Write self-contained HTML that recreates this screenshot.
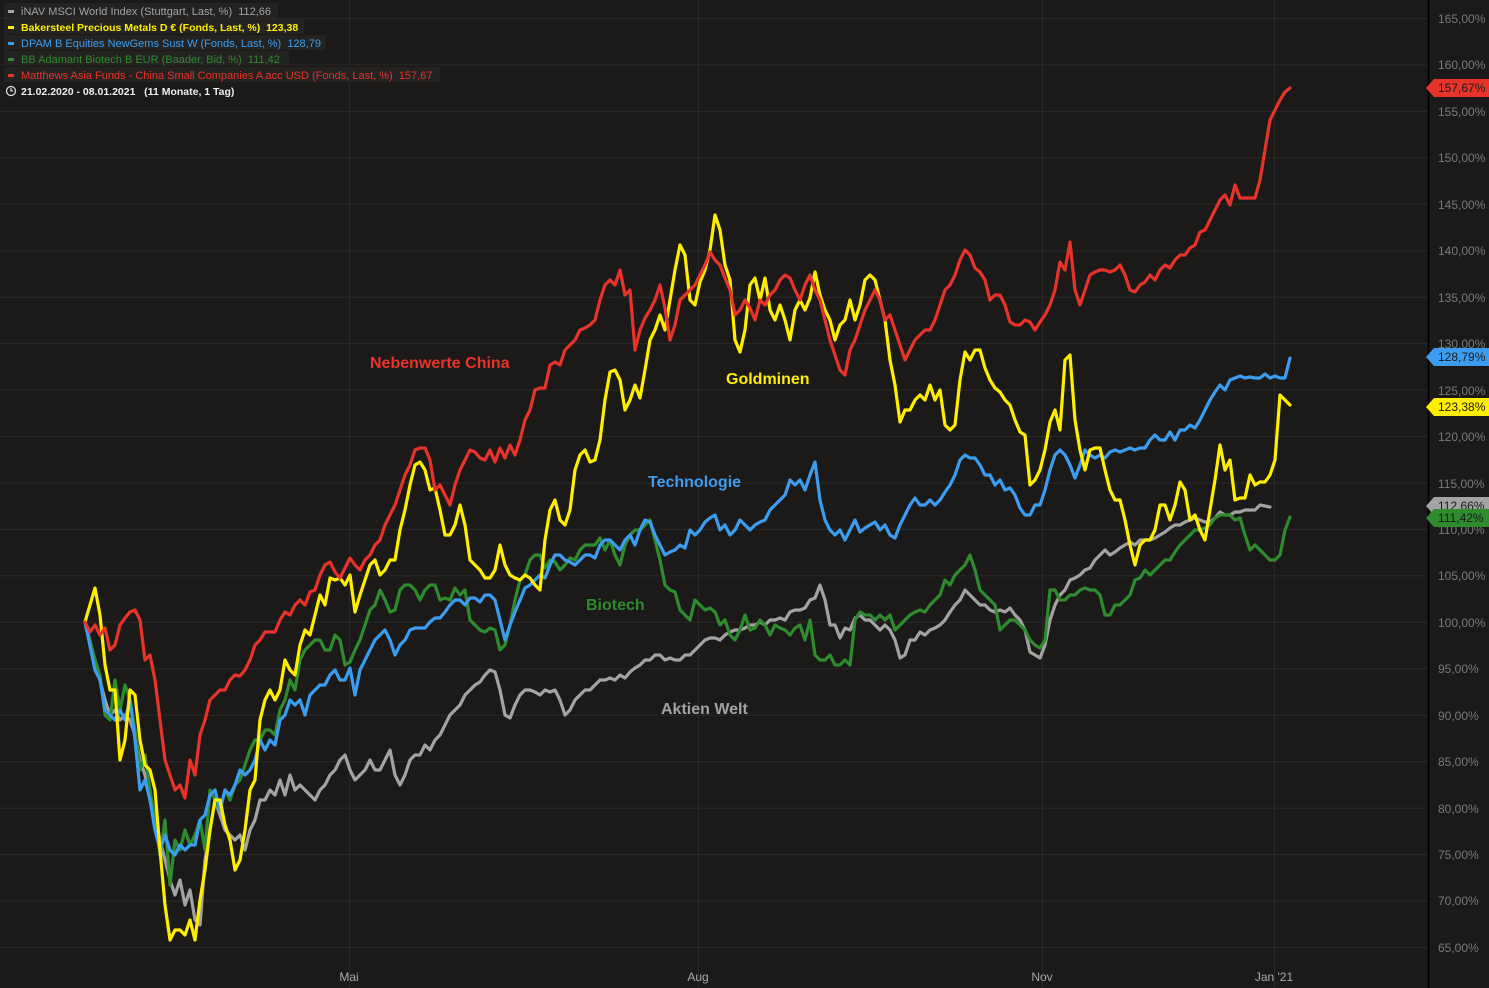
<!DOCTYPE html>
<html><head><meta charset="utf-8"><style>
html,body{margin:0;padding:0;background:#1b1a19;}
svg{display:block;font-family:"Liberation Sans",Arial,sans-serif;}
</style></head><body>
<svg width="1489" height="988" viewBox="0 0 1489 988" xmlns="http://www.w3.org/2000/svg">
<rect width="1489" height="988" fill="#1b1a19"/>
<g stroke="#2a2928" stroke-width="1">
<line x1="0" x2="1428" y1="18.5" y2="18.5"/><line x1="0" x2="1428" y1="64.9" y2="64.9"/><line x1="0" x2="1428" y1="111.4" y2="111.4"/><line x1="0" x2="1428" y1="157.8" y2="157.8"/><line x1="0" x2="1428" y1="204.3" y2="204.3"/><line x1="0" x2="1428" y1="250.7" y2="250.7"/><line x1="0" x2="1428" y1="297.2" y2="297.2"/><line x1="0" x2="1428" y1="343.6" y2="343.6"/><line x1="0" x2="1428" y1="390.1" y2="390.1"/><line x1="0" x2="1428" y1="436.5" y2="436.5"/><line x1="0" x2="1428" y1="483" y2="483"/><line x1="0" x2="1428" y1="529.4" y2="529.4"/><line x1="0" x2="1428" y1="575.9" y2="575.9"/><line x1="0" x2="1428" y1="622.3" y2="622.3"/><line x1="0" x2="1428" y1="668.8" y2="668.8"/><line x1="0" x2="1428" y1="715.2" y2="715.2"/><line x1="0" x2="1428" y1="761.7" y2="761.7"/><line x1="0" x2="1428" y1="808.1" y2="808.1"/><line x1="0" x2="1428" y1="854.6" y2="854.6"/><line x1="0" x2="1428" y1="901" y2="901"/><line x1="0" x2="1428" y1="947.5" y2="947.5"/>
<line x1="349.5" x2="349.5" y1="0" y2="988"/><line x1="698.5" x2="698.5" y1="0" y2="988"/><line x1="1042.5" x2="1042.5" y1="0" y2="988"/><line x1="1274.5" x2="1274.5" y1="0" y2="988"/>
</g>
<line x1="1428.5" x2="1428.5" y1="0" y2="988" stroke="#000" stroke-width="1.5"/>
<g fill="#7a7a7a" font-size="12">
<text x="1438" y="23">165,00%</text><text x="1438" y="69">160,00%</text><text x="1438" y="116">155,00%</text><text x="1438" y="162">150,00%</text><text x="1438" y="209">145,00%</text><text x="1438" y="255">140,00%</text><text x="1438" y="302">135,00%</text><text x="1438" y="348">130,00%</text><text x="1438" y="395">125,00%</text><text x="1438" y="441">120,00%</text><text x="1438" y="488">115,00%</text><text x="1438" y="534">110,00%</text><text x="1438" y="580">105,00%</text><text x="1438" y="627">100,00%</text><text x="1438" y="673">95,00%</text><text x="1438" y="720">90,00%</text><text x="1438" y="766">85,00%</text><text x="1438" y="813">80,00%</text><text x="1438" y="859">75,00%</text><text x="1438" y="905">70,00%</text><text x="1438" y="952">65,00%</text>
</g>
<g fill="#aaa" font-size="12" text-anchor="middle">
<text x="349" y="981">Mai</text><text x="698" y="981">Aug</text><text x="1042" y="981">Nov</text><text x="1274" y="981">Jan '21</text>
</g>
<g fill="none" stroke-width="3.2" stroke-linejoin="round" stroke-linecap="round">
<polyline stroke="#a3a3a3" points="85,622 95,660 100,680 105,700 110,715 115,710 120,720 125,715 130,720 135,735 140,760 145,775 150,800 155,820 160,840 165,860 170,880 175,895 180,880 185,905 190,890 195,920 200,925 205,860 210,830 215,800 220,815 225,830 230,835 235,840 240,835 245,850 250,830 255,820 260,800 265,800 270,790 275,795 280,780 285,795 290,775 295,790 300,785 305,790 310,795 315,800 320,790 325,785 330,775 335,770 340,760 345,755 350,770 355,780 360,775 365,770 370,760 375,770 380,770 385,760 390,750 395,775 400,785 405,775 410,760 415,755 420,755 425,745 430,750 435,740 440,735 445,725 450,715 455,710 460,705 465,695 470,690 475,685 480,682 485,675 490,670 495,672 500,690 505,715 510,718 515,705 520,695 525,690 530,690 535,692 540,695 545,690 550,692 555,690 560,700 565,715 570,710 575,700 580,695 585,690 590,690 595,685 600,680 605,680 610,678 615,680 620,675 625,678 630,672 635,668 640,665 645,660 650,660 655,655 660,655 665,660 670,658 675,660 680,660 685,655 690,655 695,650 700,645 705,640 710,638 715,638 720,640 725,635 730,632 735,630 740,630 745,628 750,625 755,625 760,622 765,625 770,620 775,620 780,618 785,620 790,612 795,610 800,610 805,608 810,600 815,598 820,585 825,600 830,625 835,625 840,638 845,628 850,630 855,618 860,615 865,620 870,620 875,625 880,630 885,625 890,630 895,640 900,658 905,655 910,640 915,640 920,632 925,635 930,630 935,628 940,625 945,620 950,612 955,605 960,600 965,590 970,595 975,600 980,605 985,605 990,610 995,612 1000,610 1005,612 1010,608 1015,615 1020,620 1025,630 1030,652 1035,655 1040,658 1045,645 1050,620 1055,605 1060,595 1065,590 1070,580 1075,578 1080,575 1085,570 1090,568 1095,560 1100,555 1105,550 1110,555 1115,552 1120,548 1125,545 1130,542 1135,545 1140,540 1145,540 1150,540 1155,538 1160,535 1165,532 1170,528 1175,525 1180,525 1185,522 1190,520 1195,518 1200,520 1205,522 1210,522 1215,518 1220,512 1225,515 1230,515 1235,512 1240,512 1245,510 1250,510 1255,510 1260,505 1265,506 1270,507"/>
<polyline stroke="#2e8b2e" points="85,622 95,660 100,675 105,715 110,720 115,680 120,710 125,685 130,700 135,730 140,770 145,755 150,790 155,820 160,855 165,820 170,885 175,840 180,850 185,830 190,845 195,835 200,820 205,850 210,790 215,800 220,810 225,790 230,800 235,785 240,780 245,765 250,750 255,740 260,740 265,730 270,730 275,735 280,710 285,700 290,680 295,690 300,660 305,650 310,645 315,640 320,640 325,650 330,650 335,635 340,640 345,665 350,662 355,650 360,640 365,625 370,610 375,605 380,590 385,600 390,612 395,610 400,590 405,585 410,585 415,590 420,600 425,590 430,585 435,585 440,600 445,598 450,600 455,588 460,595 465,590 470,620 475,625 480,630 485,632 490,628 495,630 500,650 505,645 510,625 515,600 520,580 525,575 530,560 535,555 540,555 545,568 550,560 555,562 560,570 565,565 570,558 575,560 580,550 585,545 590,545 595,545 600,538 605,550 610,540 615,555 620,565 625,545 630,535 635,530 640,530 645,525 650,520 655,540 660,560 665,585 670,590 675,592 680,610 685,615 690,620 695,600 700,605 705,610 710,608 715,612 720,625 725,620 730,635 735,640 740,630 745,615 750,630 755,628 760,620 765,625 770,635 775,625 780,628 785,630 790,635 795,628 800,625 805,640 810,620 815,655 820,660 825,660 830,655 835,665 840,665 845,660 850,665 855,620 860,612 865,615 870,615 875,620 880,615 885,620 890,615 895,630 900,625 905,620 910,615 915,612 920,610 925,612 930,605 935,600 940,595 945,580 950,585 955,575 960,570 965,565 970,555 975,570 980,590 985,595 990,600 995,605 1000,630 1005,625 1010,620 1015,620 1020,625 1025,630 1030,640 1035,645 1040,648 1045,640 1050,590 1055,590 1060,600 1065,600 1070,595 1075,595 1080,590 1085,588 1090,590 1095,590 1100,595 1105,615 1110,615 1115,605 1120,605 1125,600 1130,595 1135,580 1140,578 1145,570 1150,575 1155,570 1160,565 1165,560 1170,560 1175,552 1180,545 1185,540 1190,535 1195,530 1200,530 1205,528 1210,525 1215,518 1220,515 1225,515 1230,515 1235,520 1240,518 1245,535 1250,550 1255,545 1260,550 1265,555 1270,560 1275,560 1280,555 1285,530 1290,517"/>
<polyline stroke="#3c9df0" points="85,622 95,670 100,680 105,710 110,715 115,720 120,710 125,720 130,700 135,740 140,790 145,780 150,800 155,830 160,850 165,835 170,850 175,855 180,845 185,850 190,845 195,845 200,820 205,815 210,795 215,790 220,810 225,790 230,795 235,785 240,770 245,775 250,770 255,760 260,740 265,750 270,740 275,745 280,720 285,715 290,700 295,705 300,700 305,715 310,695 315,690 320,685 325,685 330,675 335,670 340,680 345,680 350,668 355,695 360,670 365,660 370,650 375,640 380,635 385,630 390,640 395,655 400,645 405,640 410,630 415,628 420,628 425,628 430,622 435,618 440,618 445,612 450,605 455,600 460,600 465,605 470,598 475,598 480,602 485,595 490,595 495,600 500,620 505,640 510,625 515,612 520,600 525,588 530,585 535,580 540,575 545,578 550,565 555,555 560,555 565,560 570,562 575,565 580,560 585,555 590,555 595,558 600,545 605,540 610,540 615,545 620,550 625,540 630,535 635,545 640,530 645,520 650,522 655,535 660,545 665,555 670,552 675,550 680,545 685,548 690,530 695,535 700,530 705,522 710,518 715,515 720,530 725,525 730,535 735,530 740,520 745,525 750,530 755,525 760,522 765,520 770,510 775,505 780,500 785,495 790,480 795,485 800,480 805,490 810,475 815,462 820,500 825,520 830,530 835,535 840,530 845,540 850,530 855,520 860,532 865,528 870,525 875,522 880,530 885,525 890,535 895,538 900,525 905,515 910,505 915,498 920,505 925,505 930,500 935,505 940,500 945,492 950,485 955,475 960,460 965,455 970,458 975,458 980,465 985,475 990,475 995,485 1000,480 1005,490 1010,488 1015,495 1020,508 1025,515 1030,515 1035,505 1040,505 1045,490 1050,470 1055,455 1060,450 1065,455 1070,465 1075,478 1080,465 1085,450 1090,455 1095,458 1100,455 1105,458 1110,452 1115,450 1120,452 1125,450 1130,448 1135,450 1140,448 1145,448 1150,440 1155,435 1160,440 1165,440 1170,432 1175,440 1180,430 1185,430 1190,425 1195,428 1200,420 1205,410 1210,400 1215,392 1220,385 1225,390 1230,380 1235,378 1240,376 1245,378 1250,377 1255,378 1260,378 1265,374 1270,378 1275,376 1280,378 1285,378 1290,358"/>
<polyline stroke="#ffee00" points="85,622 90,605 95,588 100,615 105,665 110,690 115,690 120,760 125,740 130,690 135,695 140,740 145,765 150,770 155,790 160,850 165,905 170,940 175,930 180,930 185,935 190,920 195,940 200,900 205,870 210,830 215,800 220,800 225,825 230,840 235,870 240,860 245,830 250,790 255,780 260,720 265,700 270,690 275,700 280,690 285,660 290,670 295,675 300,645 305,630 310,635 315,615 320,595 325,605 330,578 335,580 340,578 345,585 350,575 355,612 360,595 365,580 370,565 375,560 380,575 385,570 390,560 395,560 400,530 405,510 410,485 415,465 420,462 425,470 430,490 435,488 440,510 445,535 450,535 455,525 460,505 465,525 470,560 475,565 480,570 485,578 490,578 495,570 500,545 505,565 510,575 515,578 520,580 525,575 530,578 535,585 540,590 545,540 550,510 555,500 560,520 565,525 570,510 575,470 580,455 585,450 590,462 595,460 600,440 605,400 610,372 615,370 620,380 625,410 630,400 635,385 640,398 645,370 650,340 655,330 660,315 665,330 670,300 675,270 680,245 685,255 690,300 695,305 700,282 705,270 710,250 715,215 720,230 725,265 730,280 735,340 740,352 745,330 750,285 755,278 760,300 765,278 770,310 775,320 780,305 785,320 790,340 795,310 800,300 805,310 810,298 815,272 820,295 825,310 830,320 835,340 840,325 845,320 850,300 855,320 860,305 865,280 870,275 875,280 880,300 885,320 890,360 895,385 900,422 905,410 910,410 915,400 920,395 925,400 930,385 935,400 940,390 945,425 950,430 955,425 960,380 965,352 970,360 975,350 980,350 985,368 990,380 995,388 1000,392 1005,400 1010,405 1015,420 1020,432 1025,435 1030,485 1035,480 1040,470 1045,450 1050,422 1055,410 1060,430 1065,360 1070,355 1075,420 1080,450 1085,470 1090,450 1095,448 1100,448 1105,470 1110,490 1115,500 1120,500 1125,520 1130,545 1135,565 1140,545 1145,540 1150,540 1155,530 1160,505 1165,505 1170,520 1175,505 1180,482 1185,490 1190,520 1195,515 1200,530 1205,540 1210,510 1215,480 1220,445 1225,470 1230,460 1235,500 1240,498 1245,498 1250,475 1255,485 1260,482 1265,482 1270,475 1275,460 1280,395 1285,400 1290,405"/>
<polyline stroke="#e8332a" points="85,622 90,632 95,625 100,635 105,628 110,650 115,645 120,625 125,618 130,612 135,610 140,620 145,660 150,655 155,680 160,720 165,760 170,775 175,790 180,785 185,798 190,760 195,775 200,735 205,720 210,700 215,695 220,690 225,690 230,680 235,675 240,676 245,670 250,660 255,645 260,640 265,632 270,632 275,632 280,620 285,612 290,615 295,605 300,600 305,605 310,592 315,590 320,575 325,565 330,562 335,572 340,578 345,568 350,558 355,565 360,570 365,560 370,555 375,545 380,540 385,525 390,515 395,505 400,490 405,475 410,465 415,450 420,448 425,448 430,460 435,490 440,485 445,495 450,505 455,485 460,470 465,460 470,450 475,452 480,458 485,460 490,450 495,462 500,448 505,458 510,445 515,455 520,440 525,420 530,410 535,390 540,388 545,388 550,365 555,362 560,365 565,350 570,345 575,340 580,330 585,328 590,325 595,320 600,300 605,285 610,280 615,285 620,270 625,295 630,290 635,350 640,330 645,318 650,310 655,300 660,285 665,308 670,340 675,325 680,300 685,295 690,290 695,285 700,275 705,265 710,252 715,260 720,265 725,278 730,290 735,315 740,310 745,300 750,308 755,320 760,300 765,305 770,295 775,290 780,280 785,275 790,278 795,290 800,300 805,285 810,275 815,290 820,300 825,320 830,340 835,355 840,370 845,375 850,350 855,340 860,325 865,310 870,300 875,290 880,300 885,320 890,315 895,330 900,345 905,360 910,350 915,340 920,335 925,330 930,330 935,320 940,305 945,290 950,285 955,275 960,260 965,250 970,255 975,268 980,272 985,280 990,300 995,295 1000,295 1005,305 1010,322 1015,325 1020,325 1025,320 1030,322 1035,330 1040,322 1045,315 1050,305 1055,290 1060,262 1065,270 1070,242 1075,290 1080,305 1085,290 1090,275 1095,272 1100,270 1105,270 1110,272 1115,270 1120,265 1125,275 1130,290 1135,292 1140,285 1145,282 1150,275 1155,280 1160,270 1165,265 1170,268 1175,260 1180,255 1185,255 1190,248 1195,245 1200,232 1205,230 1210,220 1215,210 1220,200 1225,195 1230,205 1235,185 1240,198 1245,198 1250,198 1255,198 1260,180 1265,150 1270,120 1275,110 1280,100 1285,92 1290,88"/>
</g>
<g font-size="16" font-weight="bold">
<text x="370" y="368" fill="#e8332a">Nebenwerte China</text>
<text x="726" y="384" fill="#ffee00">Goldminen</text>
<text x="648" y="487" fill="#3c9df0">Technologie</text>
<text x="586" y="610" fill="#2e8b2e">Biotech</text>
<text x="661" y="714" fill="#a3a3a3">Aktien Welt</text>
</g>
<g font-size="12">
<path d="M1426,88 l8,-9 h55 v18 h-55 z" fill="#e8332a"/><text x="1438" y="92" fill="#1b1a19">157,67%</text>
<path d="M1426,357 l8,-9 h55 v18 h-55 z" fill="#3c9df0"/><text x="1438" y="361" fill="#1b1a19">128,79%</text>
<path d="M1426,407 l8,-9 h55 v18 h-55 z" fill="#ffee00"/><text x="1438" y="411" fill="#1b1a19">123,38%</text>
<path d="M1426,506 l8,-9 h55 v18 h-55 z" fill="#a3a3a3"/><text x="1438" y="510" fill="#1b1a19">112,66%</text>
<path d="M1426,518 l8,-9 h55 v18 h-55 z" fill="#2e8b2e"/><text x="1438" y="522" fill="#1b1a19">111,42%</text>
</g>
<g font-size="11">
<rect x="4" y="3" width="274" height="15" fill="#242322"/>
<rect x="4" y="19" width="300" height="15" fill="#242322"/>
<rect x="4" y="35" width="322" height="15" fill="#242322"/>
<rect x="4" y="51" width="285" height="15" fill="#242322"/>
<rect x="4" y="67" width="436" height="15" fill="#242322"/>
<rect x="8" y="10" width="6" height="3" fill="#a3a3a3"/><text x="21" y="15" fill="#a3a3a3">iNAV MSCI World Index (Stuttgart, Last, %)&#160;&#160;112,66</text>
<rect x="8" y="26" width="6" height="3" fill="#ffee00"/><text x="21" y="31" fill="#ffee00" font-weight="bold" font-size="10.5">Bakersteel Precious Metals D € (Fonds, Last, %)&#160;&#160;123,38</text>
<rect x="8" y="42" width="6" height="3" fill="#3c9df0"/><text x="21" y="47" fill="#3c9df0">DPAM B Equities NewGems Sust W (Fonds, Last, %)&#160;&#160;128,79</text>
<rect x="8" y="58" width="6" height="3" fill="#2e8b2e"/><text x="21" y="63" fill="#2e8b2e">BB Adamant Biotech B EUR (Baader, Bid, %)&#160;&#160;111,42</text>
<rect x="8" y="74" width="6" height="3" fill="#e8332a"/><text x="21" y="79" fill="#e8332a">Matthews Asia Funds - China Small Companies A acc USD (Fonds, Last, %)&#160;&#160;157,67</text>
<circle cx="11" cy="91" r="4.5" fill="none" stroke="#ddd" stroke-width="1.3"/><path d="M11,88 v3 h2" stroke="#ddd" fill="none" stroke-width="1.2"/>
<text x="21" y="95" fill="#eee" font-weight="bold" font-size="10.5">21.02.2020 - 08.01.2021&#160;&#160;&#160;(11 Monate, 1 Tag)</text>
</g>
</svg>
</body></html>
